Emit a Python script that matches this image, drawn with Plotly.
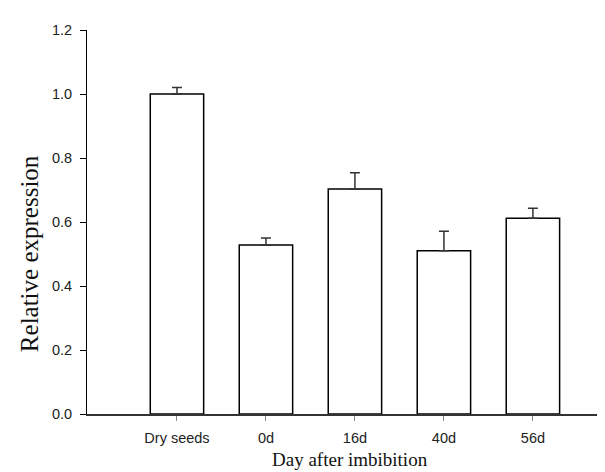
import plotly.graph_objects as go

categories = ["Dry seeds", "0d", "16d", "40d", "56d"]
values = [1.0, 0.528, 0.703, 0.51, 0.612]
errors = [0.02, 0.022, 0.051, 0.061, 0.031]
y_ticks = [0.0, 0.2, 0.4, 0.6, 0.8, 1.0, 1.2]
x_title = "Day after imbibition"
y_title = "Relative expression"

fig = go.Figure()
fig.add_trace(go.Bar(
    x=list(range(len(categories))),
    y=values,
    width=0.6,
    marker=dict(color="white", line=dict(color="black", width=1.5)),
    error_y=dict(type="data", symmetric=False, array=errors,
                 arrayminus=[0] * len(errors), thickness=1.5, width=5,
                 color="#333333"),
    showlegend=False,
))

fig.update_layout(
    width=605, height=472,
    margin=dict(l=79, r=0, t=22, b=66),
    paper_bgcolor="white", plot_bgcolor="white",
    font=dict(family="Liberation Sans, Arial", color="#222222"),
)
fig.update_xaxes(
    range=[-1.011, 4.9],
    tickmode="array", tickvals=list(range(len(categories))), ticktext=categories,
    showline=True, linecolor="#333333", linewidth=2,
    ticks="outside", ticklen=5, tickcolor="#888888", tickwidth=1,
    tickfont=dict(size=14.5, family="Liberation Sans, Arial", color="#222222"),
    ticklabelstandoff=5,
    showgrid=False, zeroline=False,
)
fig.update_yaxes(
    range=[0, 1.2], tickmode="array", tickvals=y_ticks,
    ticktext=[f"{v:.1f}" for v in y_ticks],
    showline=True, linecolor="black", linewidth=1,
    ticks="outside", ticklen=6, tickcolor="black", tickwidth=1,
    tickfont=dict(size=14.5, family="Liberation Sans, Arial", color="#222222"),
    ticklabelstandoff=5,
    showgrid=False, zeroline=False,
)

fig.add_annotation(
    text=x_title, xref="paper", yref="paper", x=0.5, y=-0.118,
    xanchor="center", yanchor="middle", showarrow=False,
    font=dict(family="Liberation Serif, Times New Roman", size=19, color="#111111"),
)
fig.add_annotation(
    text=y_title, xref="paper", yref="y", x=-0.110, y=0.5,
    xanchor="center", yanchor="middle", textangle=-90, showarrow=False,
    font=dict(family="Liberation Serif, Times New Roman", size=25, color="#111111"),
)

fig.write_html("out.html")
